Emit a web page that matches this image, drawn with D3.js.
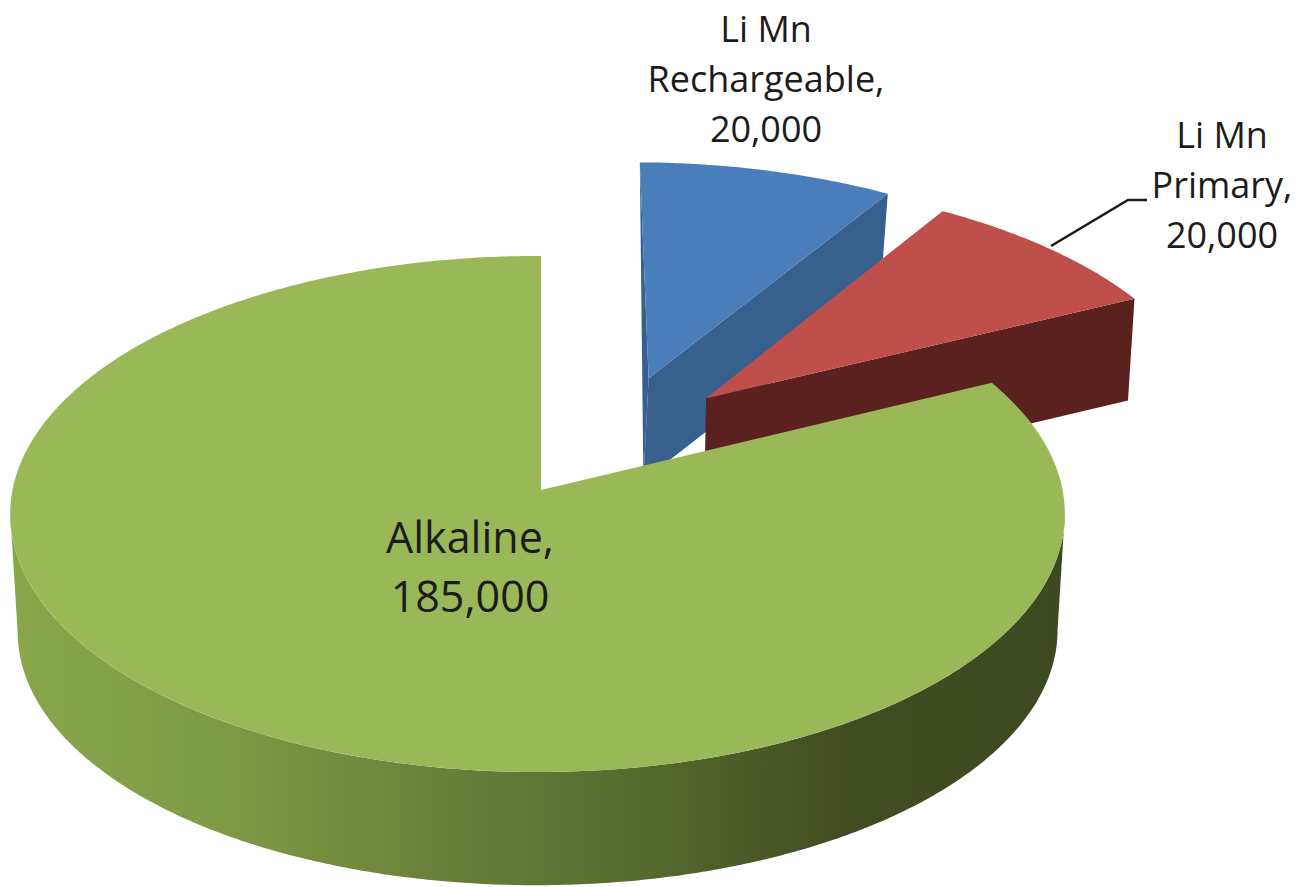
<!DOCTYPE html>
<html>
<head>
<meta charset="utf-8">
<script src="https://cdn.jsdelivr.net/npm/d3@7"></script>
<style>
html, body { margin: 0; padding: 0; background: #fff; }
svg { display: block; }
text { font-family: "Open Sans", Lato, sans-serif; fill: #1c1c1c; text-anchor: middle; }
</style>
</head>
<body>
<svg id="chart" width="1308" height="887"></svg>
<script>
// data
const categories = ["Li Mn Rechargeable", "Li Mn Primary", "Alkaline"];
const values = [20000, 20000, 185000];
const topColors = ["#4a7ebb", "#be4f4b", "#9bb858"];
const sideColors = ["#37608f", "#5b211f", "#3f4a20"];
const explode = [[0.214, -0.456], [0.326, -0.372], [0, 0]];
const labelLines = [["Li Mn", "Rechargeable,", "20,000"], ["Li Mn", "Primary,", "20,000"], ["Alkaline,", "185,000"]];

const labelPos = [[766, 42, 50, 36], [1222, 148, 50, 36], [470, 553, 59, 43]];
const rimStops = [[0, "#89a64b"], [0.2, "#7f9a45"], [0.38, "#6d833b"], [0.6, "#566a2e"], [0.8, "#404c21"], [1, "#3d4920"]];
const depth = [[0.857, -4], [0.857, 0], [1, 0]];

const svg = d3.select("#chart");

// perspective projection of the pie plane, radius 1, h = 0 top face, h = 1 bottom
const cx = 541, cy = 490;
function project(u, v, h, dx) {
    let w = 1 - 0.093 * v + 0.0066 * u;
    return [cx + 525 * u / (w + 0.014 * h) + (dx || 0), cy + (255.8 * v + 124 * h) / (w + 0.054 * h)];
}

const slices = d3.pie().sort(null)(values);
const line = d3.line();

function rimPoint(a, i, bottom) {
    let off = explode[i];
    return project(Math.sin(a) + off[0], -Math.cos(a) + off[1], bottom ? depth[i][0] : 0, bottom ? depth[i][1] : 0);
}

function arcPoints(a0, a1, i, bottom) {
    let n = Math.ceil(Math.abs(a1 - a0) / 0.01);
    return d3.range(n + 1).map(k => rimPoint(a0 + (a1 - a0) * k / n, i, bottom));
}

const grad = svg.append("defs").append("linearGradient")
    .attr("id", "rim")
    .attr("gradientUnits", "userSpaceOnUse")
    .attr("x1", 12).attr("x2", 1060).attr("y1", 0).attr("y2", 0);
grad.selectAll("stop").data(rimStops).join("stop")
    .attr("offset", d => d[0])
    .attr("stop-color", d => d[1]);

function apexes(i) {
    let off = explode[i];
    return [project(off[0], off[1], 0), project(off[0], off[1], depth[i][0], depth[i][1])];
}

// side face of an exploded slice, seen from the front
function cutFace(angle, i) {
    let a = apexes(i);
    return [a[0], rimPoint(angle, i, false), rimPoint(angle, i, true), a[1]];
}

function topFace(d, i) {
    return [apexes(i)[0]].concat(arcPoints(d.startAngle, d.endAngle, i, false));
}

// keep only the stretch of arc between its rightmost and leftmost points
function frontArc(pts) {
    return pts.slice(d3.greatestIndex(pts, p => p[0]), d3.leastIndex(pts, p => p[0]) + 1);
}

// back to front: blue, red, then the big green one
[0, 1].forEach(i => {
    let d = slices[i];
    if (i == 0) {
        // thin sliver down the left edge of the blue slice
        let a = apexes(i);
        svg.append("path").attr("d", line([rimPoint(d.startAngle, i, false), a[0], a[1]]) + "Z").attr("fill", sideColors[i]);
    }
    svg.append("path").attr("d", line(cutFace(d.endAngle, i)) + "Z").attr("fill", sideColors[i]);
    svg.append("path").attr("d", line(topFace(d, i)) + "Z").attr("fill", topColors[i]);
});

let g = slices[2];
let from = 70 * Math.PI / 180, to = 290 * Math.PI / 180;
let rim = frontArc(arcPoints(from, to, 2, false)).concat(frontArc(arcPoints(from, to, 2, true)).reverse());
svg.append("path").attr("d", line(rim) + "Z").attr("fill", "url(#rim)");
svg.append("path").attr("d", line(topFace(g, 2)) + "Z").attr("fill", topColors[2]);

// leader for the primary label
svg.append("path")
    .attr("d", line([[1051, 246], [1128, 200], [1147, 200]]))
    .attr("fill", "none")
    .attr("stroke", "#1a1a1a")
    .attr("stroke-width", 2.5);

labelLines.forEach((lines, i) => {
    let p = labelPos[i];
    let t = svg.append("text").attr("font-size", p[3]);
    lines.forEach((s, j) => {
        t.append("tspan").attr("x", p[0]).attr("y", p[1] + j * p[2]).text(s);
    });
});
</script>
</body>
</html>
